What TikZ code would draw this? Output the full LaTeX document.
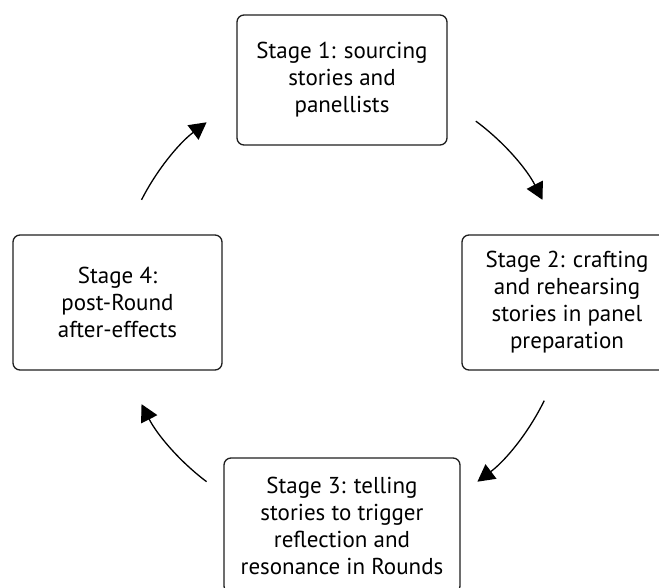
\documentclass[tikz,border=0pt]{standalone}
\usepackage{fontspec}
\setmainfont{PT Sans}
\usetikzlibrary{arrows.meta}

\begin{document}
\begin{tikzpicture}[x=1pt,y=1pt,yscale=-1,xscale=1,
  stagebox/.style={draw={rgb,255:red,30;green,30;blue,30}, rounded corners=7pt, line width=1.3pt,
    align=center, inner sep=0pt, font=\fontsize{23}{27}\selectfont},
  cyclearrow/.style={line width=1.3pt, -{Triangle[length=17pt,width=18pt]}}]
%set diagram left start at 0, and has height of 588
\useasboundingbox (0,0) rectangle (659,588);
\clip (0,0) rectangle (659,588);

%Rounded Rect: stages
\node[stagebox, minimum width=210pt, minimum height=130pt] (s1) at (342,80) {Stage 1: sourcing\\stories and\\panellists};
\node[stagebox, minimum width=210pt, minimum height=135pt] (s2) at (567,302.5) {Stage 2: crafting\\and rehearsing\\stories in panel\\preparation};
\node[stagebox, minimum width=236pt, minimum height=135pt] (s3) at (342,525.5) {Stage 3: telling\\stories to trigger\\reflection and\\resonance in Rounds};
\node[stagebox, minimum width=209pt, minimum height=135pt] (s4) at (117.5,302.5) {Stage 4:\\post-Round\\after-effects};

%Curve Lines: the cycle
\coordinate (ctr) at (342,302);
\path (ctr) ++(-53.5:225) coordinate (a12);
\path (ctr) ++(26:225) coordinate (a23);
\path (ctr) ++(127:225) coordinate (a34);
\path (ctr) ++(207:225) coordinate (a41);
\draw[cyclearrow] (a12) arc[start angle=-53.5, end angle=-27, radius=225];
\draw[cyclearrow] (a23) arc[start angle=26, end angle=53, radius=225];
\draw[cyclearrow] (a34) arc[start angle=127, end angle=153, radius=225];
\draw[cyclearrow] (a41) arc[start angle=207, end angle=233, radius=225];

\end{tikzpicture}
\end{document}
